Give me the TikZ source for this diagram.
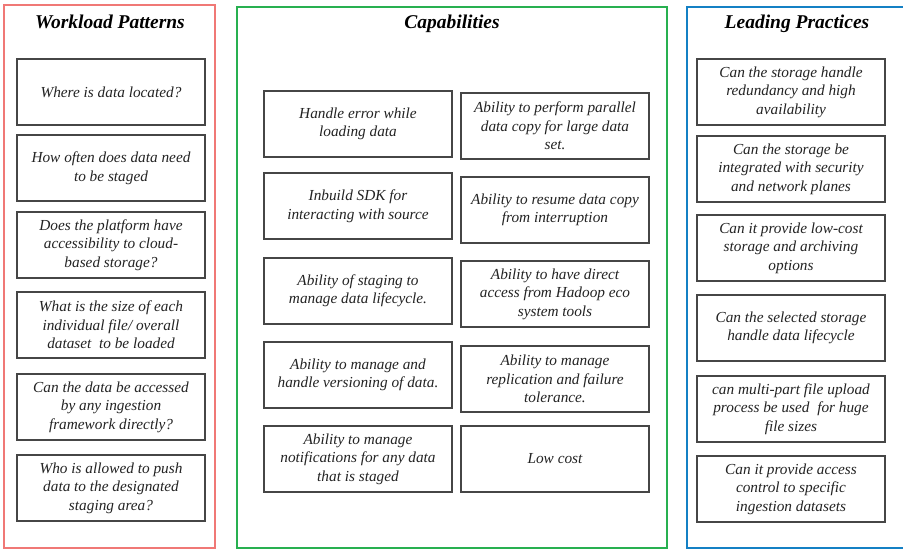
\documentclass[tikz,border=0pt]{standalone}
\usepackage{fontspec}
\setmainfont{Liberation Serif}
\definecolor{panelred}{RGB}{240,120,118}
\definecolor{panelgreen}{RGB}{40,176,80}
\definecolor{panelblue}{RGB}{20,128,196}
\definecolor{boxline}{RGB}{70,70,70}
\definecolor{boxtext}{RGB}{35,35,35}
\begin{document}
\begin{tikzpicture}[x=1pt,y=-1pt,
  panel/.style={line width=2.2pt},
  paneltitle/.style={font=\fontsize{19.5}{22}\selectfont\bfseries\itshape, text=black, inner sep=0pt},
  itembox/.style={draw=boxline, line width=1.9pt, rectangle, minimum width=188pt,
    minimum height=66pt, inner sep=1pt, align=center, text=boxtext,
    font=\fontsize{15.3}{18.5}\selectfont\itshape}]
\clip (0,0) rectangle (903,550);
\fill[white] (0,0) rectangle (903,550);

% panels
\draw[panel, draw=panelred] (4,5) rectangle (215,548);
\draw[panel, draw=panelgreen] (237,7) rectangle (667,548);
\draw[panel, draw=panelblue] (687,7) rectangle (910,548);

\node[paneltitle] (t1) at (110,22) {Workload Patterns};
\node[paneltitle] (t2) at (452,24) {Capabilities};
\node[paneltitle] (t3) at (797,24) {Leading Practices};

% workload patterns
\node[itembox] (w1) at (111,92) {Where is data located?};
\node[itembox] (w2) at (111,168) {How often does data need\\to be staged};
\node[itembox] (w3) at (111,245) {Does the platform have\\accessibility to cloud-\\based storage?};
\node[itembox] (w4) at (111,325) {What is the size of each\\individual file/ overall\\dataset\ \ to be loaded};
\node[itembox] (w5) at (111,407) {Can the data be accessed\\by any ingestion\\framework directly?};
\node[itembox] (w6) at (111,488) {Who is allowed to push\\data to the designated\\staging area?};

% capabilities, left column
\node[itembox] (c1) at (358,124) {Handle error while\\loading data};
\node[itembox] (c2) at (358,206) {Inbuild SDK for\\interacting with source};
\node[itembox] (c3) at (358,291) {Ability of staging to\\manage data lifecycle.};
\node[itembox] (c4) at (358,375) {Ability to manage and\\handle versioning of data.};
\node[itembox] (c5) at (358,459) {Ability to manage\\notifications for any data\\that is staged};

% capabilities, right column
\node[itembox] (c6) at (555,126) {Ability to perform parallel\\data copy for large data\\set.};
\node[itembox] (c7) at (555,210) {Ability to resume data copy\\from interruption};
\node[itembox] (c8) at (555,294) {Ability to have direct\\access from Hadoop eco\\system tools};
\node[itembox] (c9) at (555,379) {Ability to manage\\replication and failure\\tolerance.};
\node[itembox] (c10) at (555,459) {Low cost};

% leading practices
\node[itembox] (p1) at (791,92) {Can the storage handle\\redundancy and high\\availability};
\node[itembox] (p2) at (791,169) {Can the storage be\\integrated with security\\and network planes};
\node[itembox] (p3) at (791,248) {Can it provide low-cost\\storage and archiving\\options};
\node[itembox] (p4) at (791,328) {Can the selected storage\\handle data lifecycle};
\node[itembox] (p5) at (791,409) {can multi-part file upload\\process be used\ \ for huge\\file sizes};
\node[itembox] (p6) at (791,489) {Can it provide access\\control to specific\\ingestion datasets};
\end{tikzpicture}
\end{document}
